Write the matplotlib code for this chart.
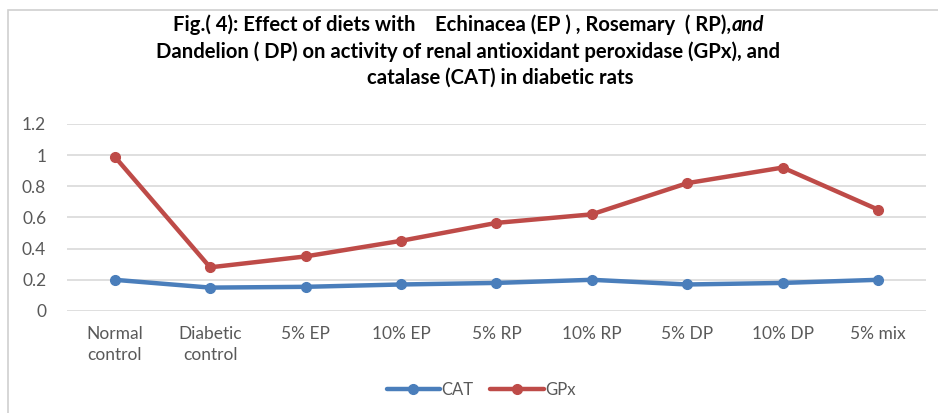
import matplotlib.pyplot as plt
from matplotlib.patches import Rectangle

categories = ["Normal\ncontrol", "Diabetic\ncontrol", "5% EP", "10% EP", "5% RP",
              "10% RP", "5% DP", "10% DP", "5% mix"]
cat_values = [0.20, 0.15, 0.155, 0.17, 0.18, 0.20, 0.17, 0.18, 0.20]
gpx_values = [0.99, 0.28, 0.35, 0.45, 0.565, 0.62, 0.82, 0.92, 0.65]
y_ticks = [0, 0.2, 0.4, 0.6, 0.8, 1, 1.2]
y_labels = ["0", "0.2", "0.4", "0.6", "0.8", "1", "1.2"]

plt.rcParams['font.family'] = ['Lato', 'DejaVu Sans']

fig = plt.figure(figsize=(9.38, 4.13), dpi=100)
ax = fig.add_axes([0.0714, 0.247, 0.9156, 0.453])

# chart border
fig.patches.append(Rectangle((8 / 938, -0.1), 1.2, 1 - 10 / 413 + 0.1,
                             transform=fig.transFigure, fill=False,
                             edgecolor='#d0d0d0', linewidth=1.2))

x = list(range(len(categories)))
ax.plot(x, cat_values, color='#4a7ebb', linewidth=3.2, marker='o',
        markersize=7, label='CAT', solid_capstyle='round')
ax.plot(x, gpx_values, color='#be4b48', linewidth=3.2, marker='o',
        markersize=7, label='GPx', solid_capstyle='round')

ax.set_xlim(-0.5, len(categories) - 0.5)
ax.set_ylim(0, 1.2)
ax.set_yticks(y_ticks)
ax.set_yticklabels(y_labels)
ax.set_xticks(x)
ax.set_xticklabels(categories, linespacing=1.35)
ax.tick_params(axis='both', length=0, labelsize=12.5, labelcolor='#595959')
ax.tick_params(axis='y', pad=15)
ax.tick_params(axis='x', pad=11)
ax.grid(axis='y', color='#d9d9d9', linewidth=1.2)
ax.set_axisbelow(True)
for s in ax.spines.values():
    s.set_visible(False)

leg = fig.legend(loc='center', bbox_to_anchor=(0.513, 0.055), ncol=2, frameon=False,
                 fontsize=12, handlelength=3.2, columnspacing=1.0, handletextpad=0.1)
for t in leg.get_texts():
    t.set_color('#595959')

# title
t1 = fig.text(0.482, 1 - 25 / 413, "Fig.( 4): Effect of diets with    Echinacea (EP ) , Rosemary  ( RP),",
              ha='center', va='center', fontsize=14.6, fontweight='bold')
ax.annotate("and", xy=(1, 0), xycoords=t1, va='bottom', ha='left',
            fontsize=14.6, fontweight='bold', fontstyle='italic')
fig.text(0.499, 1 - 52 / 413, "Dandelion ( DP) on activity of renal antioxidant peroxidase (GPx), and",
         ha='center', va='center', fontsize=14.6, fontweight='bold')
fig.text(0.533, 1 - 78 / 413, "catalase (CAT) in diabetic rats",
         ha='center', va='center', fontsize=14.6, fontweight='bold')

fig.savefig('out.png', dpi=100)
